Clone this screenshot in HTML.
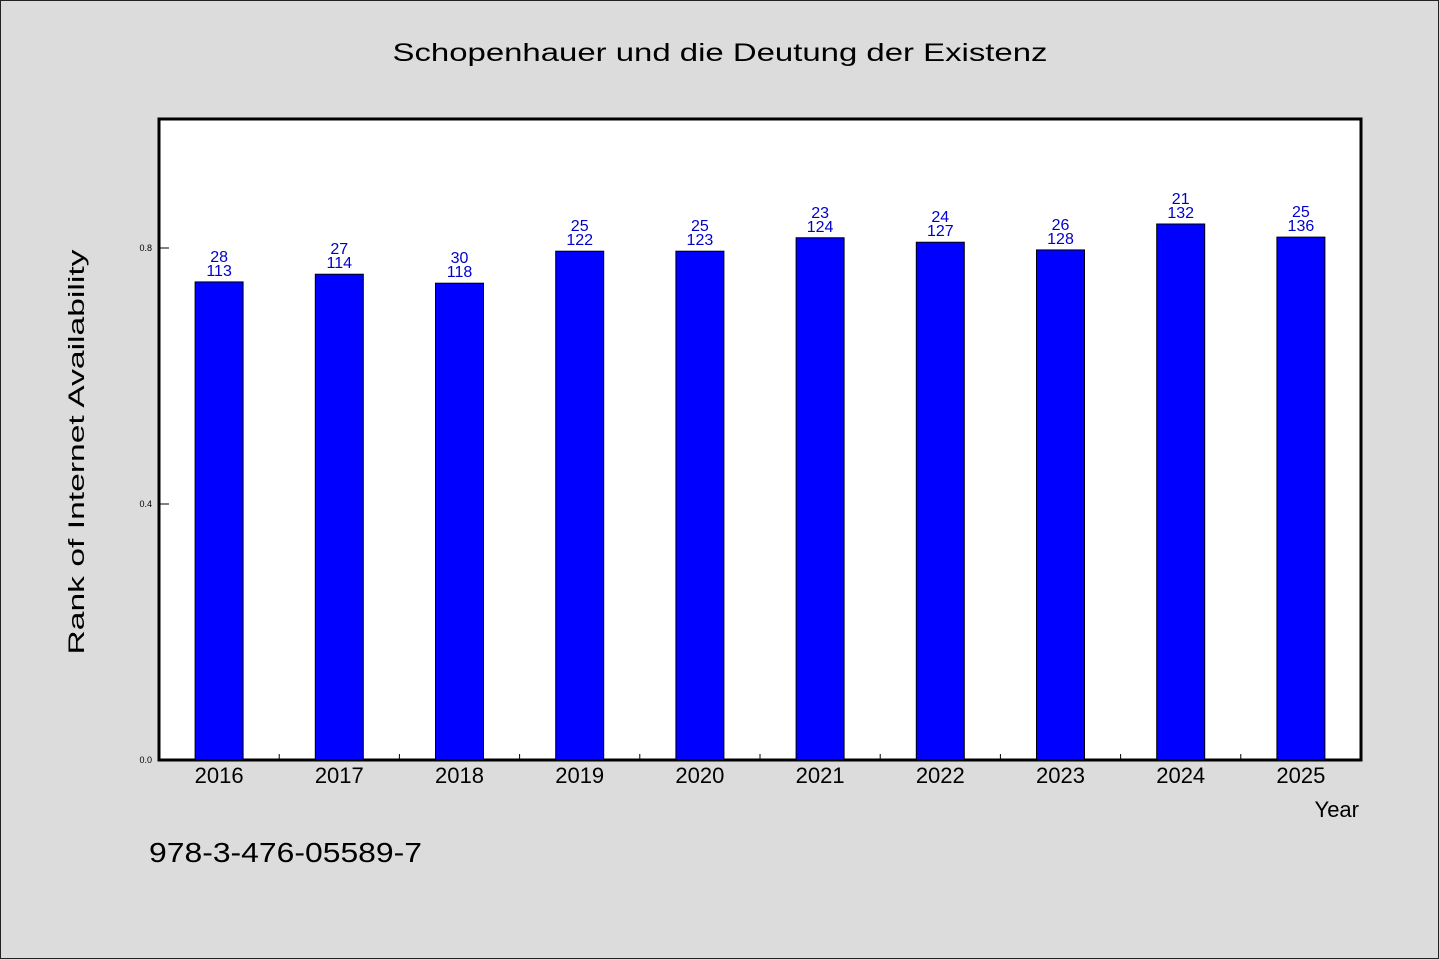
<!DOCTYPE html>
<html><head><meta charset="utf-8"><style>html,body{margin:0;padding:0;background:#dcdcdc}svg{display:block}text{font-family:"WenQuanYi Zen Hei","Liberation Sans",sans-serif}</style></head>
<body>
<svg id="chart" width="1440" height="960" xmlns="http://www.w3.org/2000/svg">
<rect x="0.5" y="0.5" width="1438" height="958" fill="#dcdcdc" stroke="#222" stroke-width="1"/>
<text x="720" y="61" font-size="25" text-anchor="middle" textLength="655" lengthAdjust="spacingAndGlyphs">Schopenhauer und die Deutung der Existenz</text>
<rect x="159" y="119" width="1202" height="641" fill="#fff" stroke="#000" stroke-width="3"/>
<g id="bars"></g>
<text transform="translate(84,452) rotate(-90)" font-size="22" text-anchor="middle" textLength="405" lengthAdjust="spacingAndGlyphs">Rank of Internet Availability</text>
<text x="1359" y="817" font-size="22" text-anchor="end">Year</text>
<text x="149" y="862" font-size="28" textLength="273" lengthAdjust="spacingAndGlyphs">978-3-476-05589-7</text>
</svg>
<script>
const categories = ["2016","2017","2018","2019","2020","2021","2022","2023","2024","2025"];
const values = [0.747,0.759,0.745,0.795,0.795,0.816,0.809,0.797,0.8375,0.817];
const ranks = ["28","27","30","25","25","23","24","26","21","25"];
const counts = ["113","114","118","122","123","124","127","128","132","136"];
const yTicks = [0.0,0.4,0.8];
const yTickLabels = ["0.0","0.4","0.8"];
const NS="http://www.w3.org/2000/svg";
const L=159,R=1361,B=760,T=120;
const y=v=>B-(v/1.0)*(B-T);
const bw=(R-L)/categories.length;
const x=i=>L+bw*(i+0.5);
const g=document.getElementById('bars');
function mk(t,a){const e=document.createElementNS(NS,t);for(const k in a)e.setAttribute(k,a[k]);g.appendChild(e);return e;}
yTicks.forEach((v,i)=>{
 const l=mk('line',{x1:L,x2:L+10,y1:y(v),y2:y(v),stroke:'#000','stroke-width':1});
 
 
 const t=mk('text',{x:L-7,y:y(v)+3,'font-size':9,'text-anchor':'end'});
 t.textContent=yTickLabels[i];
 
 
});
categories.forEach((c,i)=>{
 if(i>0){const tk=mk('line',{x1:L+bw*i,x2:L+bw*i,y1:B,y2:B-6,stroke:'#000','stroke-width':1});
 
 }
 const r=mk('rect',{x:x(i)-24,y:y(values[i]),width:48,height:B-y(values[i]),fill:'#0000ff',stroke:'#000','stroke-width':1});
 
 
 const t1=mk('text',{x:x(i),y:y(values[i])-20,'font-size':16,'text-anchor':'middle',fill:'#0000cc'});
 t1.textContent=ranks[i];
 
 
 const t2=mk('text',{x:x(i),y:y(values[i])-6,'font-size':16,'text-anchor':'middle',fill:'#0000cc'});
 t2.textContent=counts[i];
 
 
 const xl=mk('text',{x:x(i),y:783,'font-size':22,'text-anchor':'middle'});
 xl.textContent=c;
 
 
});
</script>
</body></html>
